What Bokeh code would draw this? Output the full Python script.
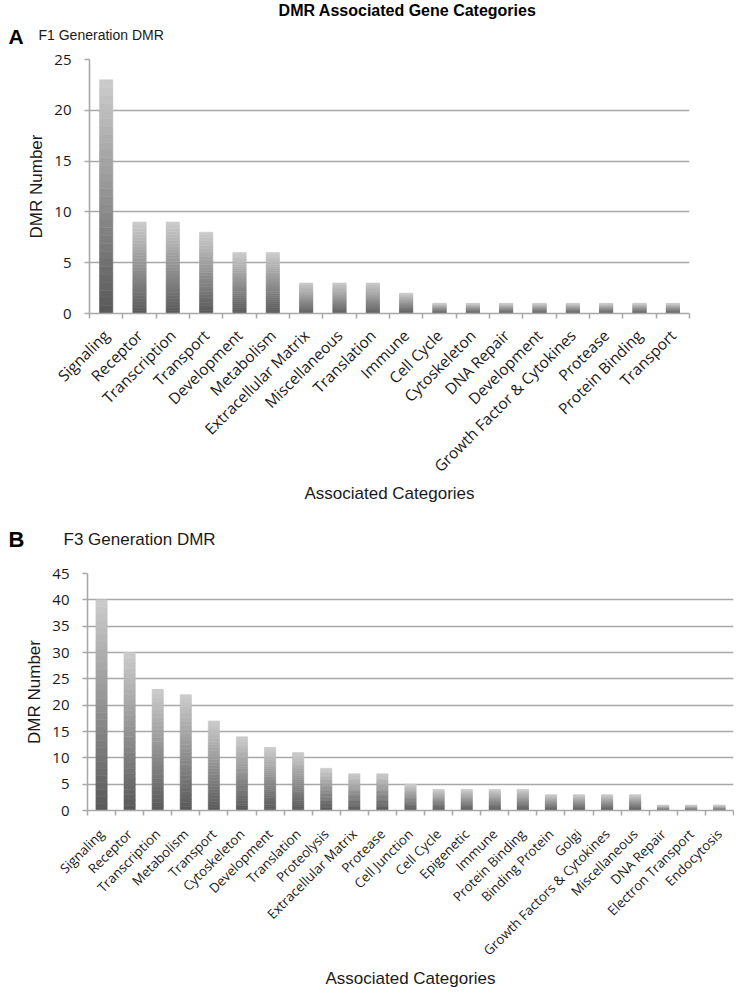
import math
from bokeh.plotting import figure
from bokeh.models import Range1d, FixedTicker
from bokeh.layouts import column
from bokeh.core.properties import value
from bokeh.embed import file_html
from bokeh.resources import INLINE

main_title = "DMR Associated Gene Categories"
x_title = "Associated Categories"
y_title = "DMR Number"

f1_panel = "A"
f1_subtitle = "F1 Generation DMR"
f1_categories = ["Signaling", "Receptor", "Transcription", "Transport", "Development",
                 "Metabolism", "Extracellular Matrix", "Miscellaneous", "Translation",
                 "Immune", "Cell Cycle", "Cytoskeleton", "DNA Repair", "Development",
                 "Growth Factor & Cytokines", "Protease", "Protein Binding", "Transport"]
f1_counts = [23, 9, 9, 8, 6, 6, 3, 3, 3, 2, 1, 1, 1, 1, 1, 1, 1, 1]
f1_yticks = [0, 5, 10, 15, 20, 25]

f3_panel = "B"
f3_subtitle = "F3 Generation DMR"
f3_categories = ["Signaling", "Receptor", "Transcription", "Metabolism", "Transport",
                 "Cytoskeleton", "Development", "Translation", "Proteolysis",
                 "Extracellular Matrix", "Protease", "Cell Junction", "Cell Cycle",
                 "Epigenetic", "Immune", "Protein Binding", "Binding Protein", "Golgi",
                 "Growth Factors & Cytokines", "Miscellaneous", "DNA Repair",
                 "Electron Transport", "Endocytosis"]
f3_counts = [40, 30, 23, 22, 17, 14, 12, 11, 8, 7, 7, 5, 4, 4, 4, 4, 3, 3, 3, 3, 1, 1, 1]
f3_yticks = [0, 5, 10, 15, 20, 25, 30, 35, 40, 45]

W = 734
GRID = "#a8a8a8"
TXT = "#1a1a1a"


def header(height):
    h = figure(width=W, height=height, output_backend="svg", toolbar_location=None,
               x_range=Range1d(0, W), y_range=Range1d(height, 0),
               x_axis_type=None, y_axis_type=None, frame_align=False,
               min_border_left=0, min_border_right=0, min_border_top=0, min_border_bottom=0)
    h.outline_line_color = None
    h.xgrid.grid_line_color = None
    h.ygrid.grid_line_color = None
    return h


def add_text(h, x, y, txt, font, size, style, align="left", color="black"):
    h.text(x=[x], y=[y], text=[txt], text_font=value(font), text_font_size=size,
           text_font_style=style, text_align=align, text_baseline="middle",
           text_color=color)


def gradient_bars(p, counts, n_steps=30, width=0.4):
    xs, bottoms, tops, colors = [], [], [], []
    for i, v in enumerate(counts):
        for k in range(n_steps):
            t = k / (n_steps - 1)
            g = int(round(90 + t * (202 - 90)))
            xs.append(i + 0.5)
            bottoms.append(v * k / n_steps)
            tops.append(v * (k + 1) / n_steps)
            colors.append("#%02x%02x%02x" % (g, g, g))
    p.vbar(x=xs, bottom=bottoms, top=tops, width=width,
           fill_color=colors, line_color=colors, line_width=0.6)


def make_panel(cats, counts, yticks, height, borders, xlab_size, xlab_standoff,
               xtitle_standoff):
    n = len(cats)
    left, right, top, bottom = borders
    p = figure(width=W, height=height, output_backend="svg", toolbar_location=None,
               x_range=Range1d(0, n), y_range=Range1d(yticks[0], yticks[-1]),
               frame_align=False,
               min_border_left=left, min_border_right=right,
               min_border_top=top, min_border_bottom=bottom)
    p.outline_line_color = None

    gradient_bars(p, counts)

    centers = [i + 0.5 for i in range(n)]
    xax = p.xaxis[0]
    xax.ticker = FixedTicker(ticks=centers, minor_ticks=list(range(n + 1)))
    xax.major_label_overrides = {c: name for c, name in zip(centers, cats)}
    xax.major_label_orientation = math.pi / 4
    xax.major_tick_out = 0
    xax.major_tick_in = 0
    xax.minor_tick_out = 5
    xax.minor_tick_in = 0
    xax.minor_tick_line_color = GRID
    xax.minor_tick_line_width = 1.5
    xax.axis_line_color = GRID
    xax.axis_line_width = 1.6
    xax.major_label_text_font = "Open Sans"
    xax.major_label_text_font_size = xlab_size
    xax.major_label_text_color = TXT
    xax.major_label_standoff = xlab_standoff
    xax.axis_label = x_title
    xax.axis_label_text_font = "Liberation Sans"
    xax.axis_label_text_font_style = "normal"
    xax.axis_label_text_font_size = "17px"
    xax.axis_label_text_color = TXT
    xax.axis_label_standoff = xtitle_standoff

    yax = p.yaxis[0]
    yax.ticker = FixedTicker(ticks=yticks)
    yax.minor_tick_line_color = None
    yax.major_tick_out = 5
    yax.major_tick_in = 0
    yax.major_tick_line_color = GRID
    yax.major_tick_line_width = 1.5
    yax.axis_line_color = GRID
    yax.axis_line_width = 1.6
    yax.major_label_text_font = "Open Sans"
    yax.major_label_text_font_size = "15px"
    yax.major_label_text_color = TXT
    yax.major_label_standoff = 13
    yax.axis_label = y_title
    yax.axis_label_text_font = "Liberation Sans"
    yax.axis_label_text_font_style = "normal"
    yax.axis_label_text_font_size = "17px"
    yax.axis_label_text_color = TXT
    yax.axis_label_standoff = 5

    p.xgrid.grid_line_color = None
    p.ygrid.grid_line_color = GRID
    p.ygrid.grid_line_width = 1.6
    p.ygrid.ticker = FixedTicker(ticks=yticks)
    return p


ha = header(50)
add_text(ha, 407, 10, main_title, "Liberation Sans", "16px", "bold", "center")
add_text(ha, 8, 36, f1_panel, "Liberation Sans", "21px", "bold")
add_text(ha, 38, 34, f1_subtitle, "Liberation Sans", "14px", "normal", color=TXT)

pa = make_panel(f1_categories, f1_counts, f1_yticks, 458, (89, 45, 9, 195),
                "15.5px", 14, -3)

hb = header(48)
add_text(hb, 8, 31, f3_panel, "Liberation Sans", "22px", "bold")
add_text(hb, 63, 31, f3_subtitle, "Liberation Sans", "17px", "normal", color=TXT)

pb = make_panel(f3_categories, f3_counts, f3_yticks, 434, (87, 1, 17, 176),
                "13.3px", 16, 0)

layout = column(ha, pa, hb, pb, spacing=0)
open("out.html", "w").write(file_html(layout, INLINE))
